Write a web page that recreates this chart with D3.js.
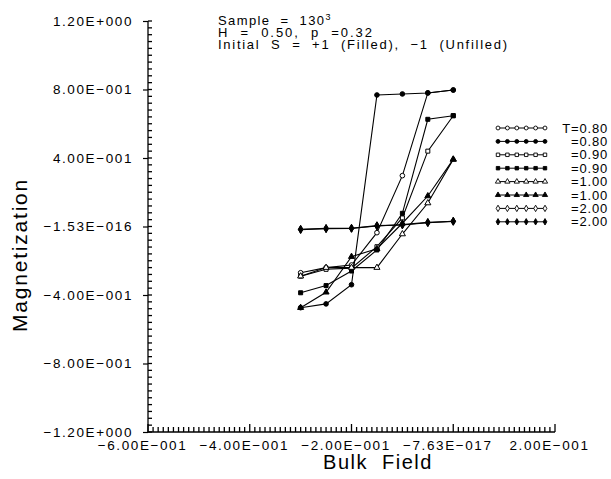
<!DOCTYPE html>
<html>
<head>
<meta charset="utf-8">
<script src="https://cdn.jsdelivr.net/npm/d3@7"></script>
<style>
  html, body { margin: 0; padding: 0; background: #fff; }
  svg { display: block; font-family: "Liberation Sans", Arial, sans-serif; }
</style>
</head>
<body>
<svg id="chart" width="611" height="479"></svg>
<script>
// ---- data ----
const fieldValues = [-0.30, -0.25, -0.20, -0.15, -0.10, -0.05, 0.00];
const seriesLabels = ["T=0.80", "=0.80", "=0.90", "=0.90", "=1.00", "=1.00", "=2.00", "=2.00"];
const seriesFilled = [false, true, false, true, false, true, false, true];
const seriesShapes = ["circle", "circle", "square", "square", "triangle", "triangle", "diamond", "diamond"];
const magT080u = [-0.270, -0.240, -0.225, -0.036, 0.297, 0.780, 0.797];
const magT080f = [-0.474, -0.452, -0.340, 0.768, 0.774, 0.780, 0.797];
const magT090u = [-0.290, -0.250, -0.243, -0.118, 0.050, 0.440, 0.647];
const magT090f = [-0.387, -0.345, -0.260, -0.137, 0.077, 0.626, 0.647];
const magT100u = [-0.290, -0.240, -0.240, -0.240, -0.044, 0.137, 0.392];
const magT100f = [-0.474, -0.384, -0.176, -0.130, 0.019, 0.178, 0.392];
const magT200u = [-0.016, -0.011, -0.010, 0.005, 0.009, 0.022, 0.030];
const magT200f = [-0.018, -0.013, -0.011, 0.003, 0.011, 0.024, 0.031];
const seriesValues = [magT080u, magT080f, magT090u, magT090f, magT100u, magT100f, magT200u, magT200f];

const xTickValues = [-0.6, -0.4, -0.2, 0.0, 0.2];
const xTickLabels = ["−6.00E−001", "−4.00E−001", "−2.00E−001", "−7.63E−017", "2.00E−001"];
const yTickValues = [1.2, 0.8, 0.4, 0.0, -0.4, -0.8, -1.2];
const yTickLabels = ["1.20E+000", "8.00E−001", "4.00E−001", "−1.53E−016", "−4.00E−001", "−8.00E−001", "−1.20E+000"];
const headerLines = ["Sample  =  130", "H  =  0.50,  p  =0.32", "Initial  S  =  +1  (Filled),  −1  (Unfilled)"];

// ---- layout ----
const svg = d3.select("#chart");
const x = d3.scaleLinear().domain([-0.6, 0.2]).range([148, 555]);
const y = d3.scaleLinear().domain([-1.2, 1.2]).range([432, 21]);

// Y axis (major ticks, labels)
const yAxis = d3.axisLeft(y).tickValues(yTickValues)
  .tickFormat((d, i) => yTickLabels[i]).tickSize(5).tickPadding(10);
const gy = svg.append("g").attr("transform", `translate(${x(-0.6)},0)`).call(yAxis);
gy.select(".domain").attr("stroke", "#000").attr("stroke-width", 1.3).attr("d", `M0,${y(1.2)}V${y(-1.2)}`);
gy.selectAll(".tick line").attr("stroke", "#000").attr("stroke-width", 1.2);
gy.selectAll(".tick text").attr("font-size", 13.5).attr("letter-spacing", "1.6px").attr("fill", "#000")
  .attr("font-family", "Liberation Sans, Arial, sans-serif");

// X axis
const xAxis = d3.axisBottom(x).tickValues(xTickValues)
  .tickFormat((d, i) => xTickLabels[i]).tickSize(0).tickPadding(8);
const gx = svg.append("g").attr("transform", `translate(0,${y(-1.2)})`).call(xAxis);
gx.select(".domain").attr("stroke", "#000").attr("stroke-width", 1.3).attr("d", `M${x(-0.6)},0H${x(0.2)}`);
gx.selectAll(".tick text").attr("font-size", 13.5).attr("letter-spacing", "1.6px").attr("fill", "#000")
  .attr("dx", -6).attr("font-family", "Liberation Sans, Arial, sans-serif");

// minor ticks through the scales
const yMinorValues = d3.range(0, 61).map(k => -1.2 + k * 0.04);
const xMinorValues = d3.range(0, 81).map(k => -0.6 + k * 0.01);
const tickG = svg.append("g").attr("stroke", "#000").attr("stroke-width", 1.3);
tickG.selectAll("line.ym").data(yMinorValues).join("line").attr("class", "ym")
  .attr("x1", x(-0.6)).attr("x2", x(-0.6) + 4)
  .attr("y1", d => y(d)).attr("y2", d => y(d));
tickG.selectAll("line.xm").data(xMinorValues).join("line").attr("class", "xm")
  .attr("x1", d => x(d)).attr("x2", d => x(d))
  .attr("y1", y(-1.2)).attr("y2", (d, i) => y(-1.2) - (i % 20 === 0 ? 8 : 5));

// axis titles
svg.append("text").attr("transform", "translate(27,255) rotate(-90)")
  .attr("text-anchor", "middle").attr("font-size", 21).attr("letter-spacing", "1.8px")
  .text("Magnetization");
svg.append("text").attr("x", 378).attr("y", 469).attr("text-anchor", "middle")
  .attr("font-size", 20).attr("letter-spacing", "1.5px").style("white-space", "pre")
  .text("Bulk  Field");

// header
const hdr = svg.append("g").attr("font-size", 13).attr("fill", "#000");
const h1 = hdr.append("text").attr("x", 218).attr("y", 25).style("white-space", "pre");
h1.append("tspan").attr("textLength", 106).attr("lengthAdjust", "spacing").text(headerLines[0]);
h1.append("tspan").attr("dy", -5).attr("font-size", 9).text("3");
hdr.append("text").attr("x", 218).attr("y", 37).style("white-space", "pre")
  .attr("textLength", 154).attr("lengthAdjust", "spacing").text(headerLines[1]);
hdr.append("text").attr("x", 218).attr("y", 49).style("white-space", "pre")
  .attr("textLength", 289).attr("lengthAdjust", "spacing").text(headerLines[2]);

// marker symbols
const symbolFor = { circle: d3.symbolCircle, square: d3.symbolSquare, triangle: d3.symbolTriangle, diamond: d3.symbolDiamond };
const symSize = { circle: 17, square: 16, triangle: 16, diamond: 18 };

const line = d3.line().x((d, i) => x(fieldValues[i])).y(d => y(d));
const plot = svg.append("g");
seriesValues.forEach((vals, s) => {
  plot.append("path").attr("d", line(vals)).attr("fill", "none")
    .attr("stroke", "#000").attr("stroke-width", 1.1);
});
seriesValues.forEach((vals, s) => {
  const sym = d3.symbol().type(symbolFor[seriesShapes[s]]).size(symSize[seriesShapes[s]]);
  plot.selectAll(null).data(vals).enter().append("path")
    .attr("transform", (d, i) => `translate(${x(fieldValues[i])},${y(d)})`)
    .attr("d", sym)
    .attr("fill", seriesFilled[s] ? "#000" : "#fff")
    .attr("stroke", "#000").attr("stroke-width", 1);
});

// legend
const leg = svg.append("g");
seriesLabels.forEach((lab, s) => {
  const ly = 128 + s * 13.4;
  const lx0 = 498, lx1 = 545;
  leg.append("line").attr("x1", lx0).attr("x2", lx1).attr("y1", ly).attr("y2", ly)
    .attr("stroke", "#000").attr("stroke-width", 1);
  const sym = d3.symbol().type(symbolFor[seriesShapes[s]]).size(12);
  leg.selectAll(null).data(d3.range(6)).enter().append("path")
    .attr("transform", k => `translate(${lx0 + k * (lx1 - lx0) / 5},${ly})`)
    .attr("d", sym)
    .attr("fill", seriesFilled[s] ? "#000" : "#fff")
    .attr("stroke", "#000").attr("stroke-width", 0.9);
  leg.append("text").attr("x", 608).attr("y", ly + 4.5).attr("text-anchor", "end")
    .attr("font-size", 13).attr("letter-spacing", "0.8px").text(lab);
});
</script>
</body>
</html>
